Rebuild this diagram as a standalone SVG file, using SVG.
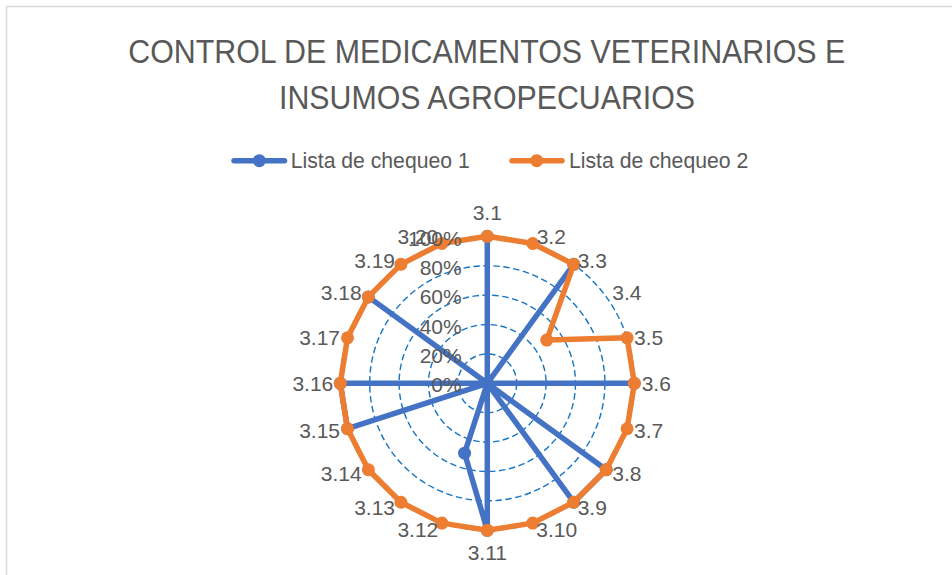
<svg xmlns="http://www.w3.org/2000/svg" width="952" height="575" viewBox="0 0 952 575">
<style>
.t{font-family:"Liberation Sans",Arial,sans-serif;fill:#595959}
.title{font-size:33px}
.leg{font-size:22px}
.lab{font-size:21px}
.grid{fill:none;stroke:#1574C4;stroke-width:1.4;stroke-dasharray:6.5 3.5}
.s1{fill:none;stroke:#4472C4;stroke-width:5.5;stroke-linejoin:round;stroke-linecap:round}
.s2{fill:none;stroke:#ED7D31;stroke-width:5.5;stroke-linejoin:round;stroke-linecap:round}
.m1{fill:#4472C4}
.m2{fill:#ED7D31}
</style>
<rect x="0" y="0" width="952" height="575" fill="#FFFFFF"/>
<rect x="6.5" y="6.5" width="1000" height="1000" fill="#FFFFFF" stroke="#D9D9D9" stroke-width="1.5"/>
<g id="title">
<text class="t title" x="128.3" y="63.3" textLength="717" lengthAdjust="spacingAndGlyphs">CONTROL DE MEDICAMENTOS VETERINARIOS E</text>
<text class="t title" x="279" y="109.3" textLength="416" lengthAdjust="spacingAndGlyphs">INSUMOS AGROPECUARIOS</text>
</g>
<g id="legend">
<line class="s1" x1="234" y1="160.7" x2="284.5" y2="160.7"/>
<circle class="m1" cx="259.3" cy="160.7" r="6.5"/>
<text class="t leg" x="290.7" y="168.3" textLength="179" lengthAdjust="spacingAndGlyphs">Lista de chequeo 1</text>
<line class="s2" x1="512" y1="160.7" x2="562" y2="160.7"/>
<circle class="m2" cx="536.7" cy="160.7" r="6.5"/>
<text class="t leg" x="569" y="168.3" textLength="179.3" lengthAdjust="spacingAndGlyphs">Lista de chequeo 2</text>
</g>
<g id="gridlines">
<circle class="grid" cx="487.3" cy="383.3" r="29.4"/>
<circle class="grid" cx="487.3" cy="383.3" r="58.8"/>
<circle class="grid" cx="487.3" cy="383.3" r="88.2"/>
<circle class="grid" cx="487.3" cy="383.3" r="117.6"/>
<circle class="grid" cx="487.3" cy="383.3" r="147"/>
</g>
<g id="connectors">
<g id="series1">
<polygon class="s1" points="487.3,236.3 487.3,383.3 573.71,264.37 487.3,383.3 487.3,383.3 634.3,383.3 487.3,383.3 606.23,469.71 573.71,502.23 487.3,383.3 487.3,530.3 464.58,453.21 487.3,383.3 487.3,383.3 347.49,428.73 340.3,383.3 487.3,383.3 368.37,296.89 487.3,383.3 487.3,383.3"/>
<circle class="m1" cx="487.3" cy="383.3" r="6.5"/>
<circle class="m1" cx="464.58" cy="453.21" r="6.5"/>
<circle class="m1" cx="487.3" cy="236.3" r="6.5"/>
<circle class="m1" cx="573.71" cy="264.37" r="6.5"/>
<circle class="m1" cx="634.3" cy="383.3" r="6.5"/>
<circle class="m1" cx="606.23" cy="469.71" r="6.5"/>
<circle class="m1" cx="573.71" cy="502.23" r="6.5"/>
<circle class="m1" cx="487.3" cy="530.3" r="6.5"/>
<circle class="m1" cx="347.49" cy="428.73" r="6.5"/>
<circle class="m1" cx="340.3" cy="383.3" r="6.5"/>
<circle class="m1" cx="368.37" cy="296.89" r="6.5"/>
</g>
<g id="series2">
<polygon class="s2" points="487.3,236.3 532.73,243.49 573.71,264.37 546.77,340.09 627.11,337.87 634.3,383.3 627.11,428.73 606.23,469.71 573.71,502.23 532.73,523.11 487.3,530.3 441.87,523.11 400.89,502.23 368.37,469.71 347.49,428.73 340.3,383.3 347.49,337.87 368.37,296.89 400.89,264.37 441.87,243.49"/>
<circle class="m2" cx="487.3" cy="236.3" r="6.5"/>
<circle class="m2" cx="532.73" cy="243.49" r="6.5"/>
<circle class="m2" cx="573.71" cy="264.37" r="6.5"/>
<circle class="m2" cx="546.77" cy="340.09" r="6.5"/>
<circle class="m2" cx="627.11" cy="337.87" r="6.5"/>
<circle class="m2" cx="634.3" cy="383.3" r="6.5"/>
<circle class="m2" cx="627.11" cy="428.73" r="6.5"/>
<circle class="m2" cx="606.23" cy="469.71" r="6.5"/>
<circle class="m2" cx="573.71" cy="502.23" r="6.5"/>
<circle class="m2" cx="532.73" cy="523.11" r="6.5"/>
<circle class="m2" cx="487.3" cy="530.3" r="6.5"/>
<circle class="m2" cx="441.87" cy="523.11" r="6.5"/>
<circle class="m2" cx="400.89" cy="502.23" r="6.5"/>
<circle class="m2" cx="368.37" cy="469.71" r="6.5"/>
<circle class="m2" cx="347.49" cy="428.73" r="6.5"/>
<circle class="m2" cx="340.3" cy="383.3" r="6.5"/>
<circle class="m2" cx="347.49" cy="337.87" r="6.5"/>
<circle class="m2" cx="368.37" cy="296.89" r="6.5"/>
<circle class="m2" cx="400.89" cy="264.37" r="6.5"/>
<circle class="m2" cx="441.87" cy="243.49" r="6.5"/>
</g>
</g>
<g id="value-axis" class="t lab" text-anchor="end">
<text x="461.7" y="391.7">0%</text>
<text x="461.7" y="363">20%</text>
<text x="461.7" y="334.2">40%</text>
<text x="461.7" y="304.2">60%</text>
<text x="461.7" y="274.5">80%</text>
<text x="461.7" y="245.5">100%</text>
</g>
<g id="categories" class="t lab">
<text x="487.3" y="220" text-anchor="middle">3.1</text>
<text x="536.7" y="243.5">3.2</text>
<text x="577.7" y="267.5">3.3</text>
<text x="612.3" y="300.2">3.4</text>
<text x="634" y="344.5">3.5</text>
<text x="641.7" y="390.8">3.6</text>
<text x="634" y="437.5">3.7</text>
<text x="612.3" y="481.3">3.8</text>
<text x="577.7" y="514.8">3.9</text>
<text x="536.3" y="536.5">3.10</text>
<text x="487.3" y="560" text-anchor="middle">3.11</text>
<text x="438.3" y="536.5" text-anchor="end">3.12</text>
<text x="395" y="514.8" text-anchor="end">3.13</text>
<text x="361.7" y="481.3" text-anchor="end">3.14</text>
<text x="340" y="437.5" text-anchor="end">3.15</text>
<text x="333.3" y="390.8" text-anchor="end">3.16</text>
<text x="340" y="344.5" text-anchor="end">3.17</text>
<text x="361.7" y="300.2" text-anchor="end">3.18</text>
<text x="395" y="267.5" text-anchor="end">3.19</text>
<text x="438.3" y="243.5" text-anchor="end">3.20</text>
</g>
</svg>
